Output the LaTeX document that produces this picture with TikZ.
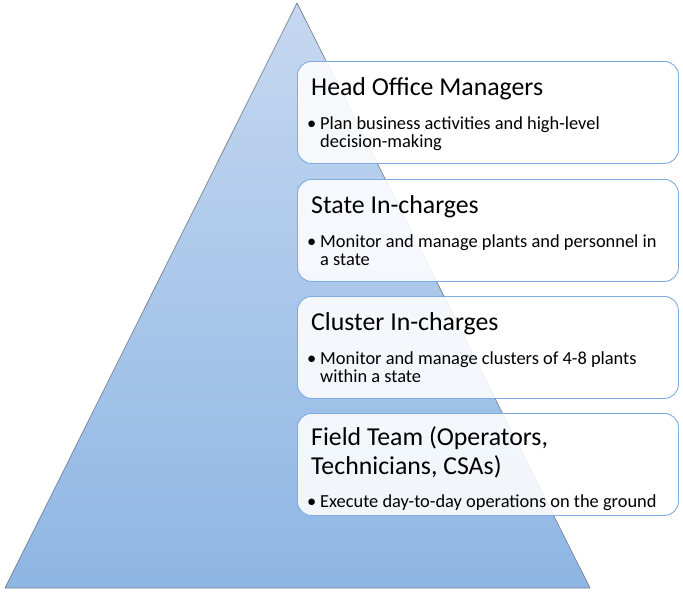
\documentclass[tikz,border=0pt]{standalone}
\usepackage{fontspec}
\setmainfont{Carlito}
\definecolor{tritop}{RGB}{198,216,240}
\definecolor{tribot}{RGB}{142,182,228}
\definecolor{triedge}{RGB}{120,130,145}
\definecolor{boxedge}{RGB}{125,172,228}
\tikzset{
  tierbox/.style={draw=boxedge, line width=0.9pt, fill=white, fill opacity=0.88,
    rounded corners=14pt, minimum width=381pt, minimum height=102pt, anchor=north west, inner sep=0pt},
  tiertitle/.style={anchor=base west, inner sep=0pt, font=\fontsize{25.8}{30}\selectfont},
  tierbullet/.style={anchor=base west, inner sep=0pt, font=\fontsize{18.4}{20}\selectfont},
  bulletdot/.style={anchor=base west, inner sep=0pt, font=\fontsize{18.4}{20}\selectfont}
}
\begin{document}
\begin{tikzpicture}[x=1pt,y=-1pt]
\useasboundingbox (0,0) rectangle (683,592);
% pyramid
\coordinate (apex) at (297,3);
\coordinate (bl) at (5,588);
\coordinate (br) at (590,588);
\shade[top color=tritop, bottom color=tribot] (apex) -- (br) -- (bl) -- cycle;
\draw[triedge, line width=0.7pt, line join=round] (apex) -- (br) -- (bl) -- cycle;
% boxes
\node[tierbox] (b1) at (297,61) {};
\node[tierbox] (b2) at (297,179) {};
\node[tierbox] (b3) at (297,296) {};
\node[tierbox] (b4) at (297,413) {};
% box 1
\node[tiertitle] (t1) at (311,95) {Head Office Managers};
\node[bulletdot] (d1) at (307,129) {\textbullet};
\node[tierbullet] (l1a) at (320,129) {Plan business activities and high-level};
\node[tierbullet] (l1b) at (320,147) {decision-making};
% box 2
\node[tiertitle] (t2) at (311,213) {State In-charges};
\node[bulletdot] (d2) at (307,247) {\textbullet};
\node[tierbullet] (l2a) at (320,247) {Monitor and manage plants and personnel in};
\node[tierbullet] (l2b) at (320,265) {a state};
% box 3
\node[tiertitle] (t3) at (311,330) {Cluster In-charges};
\node[bulletdot] (d3) at (307,364) {\textbullet};
\node[tierbullet] (l3a) at (320,364) {Monitor and manage clusters of 4-8 plants};
\node[tierbullet] (l3b) at (320,382) {within a state};
% box 4
\node[tiertitle] (t4a) at (311,445) {Field Team (Operators,};
\node[tiertitle] (t4b) at (311,474) {Technicians, CSAs)};
\node[bulletdot] (d4) at (307,507) {\textbullet};
\node[tierbullet] (l4a) at (320,507) {Execute day-to-day operations on the ground};
\end{tikzpicture}
\end{document}
